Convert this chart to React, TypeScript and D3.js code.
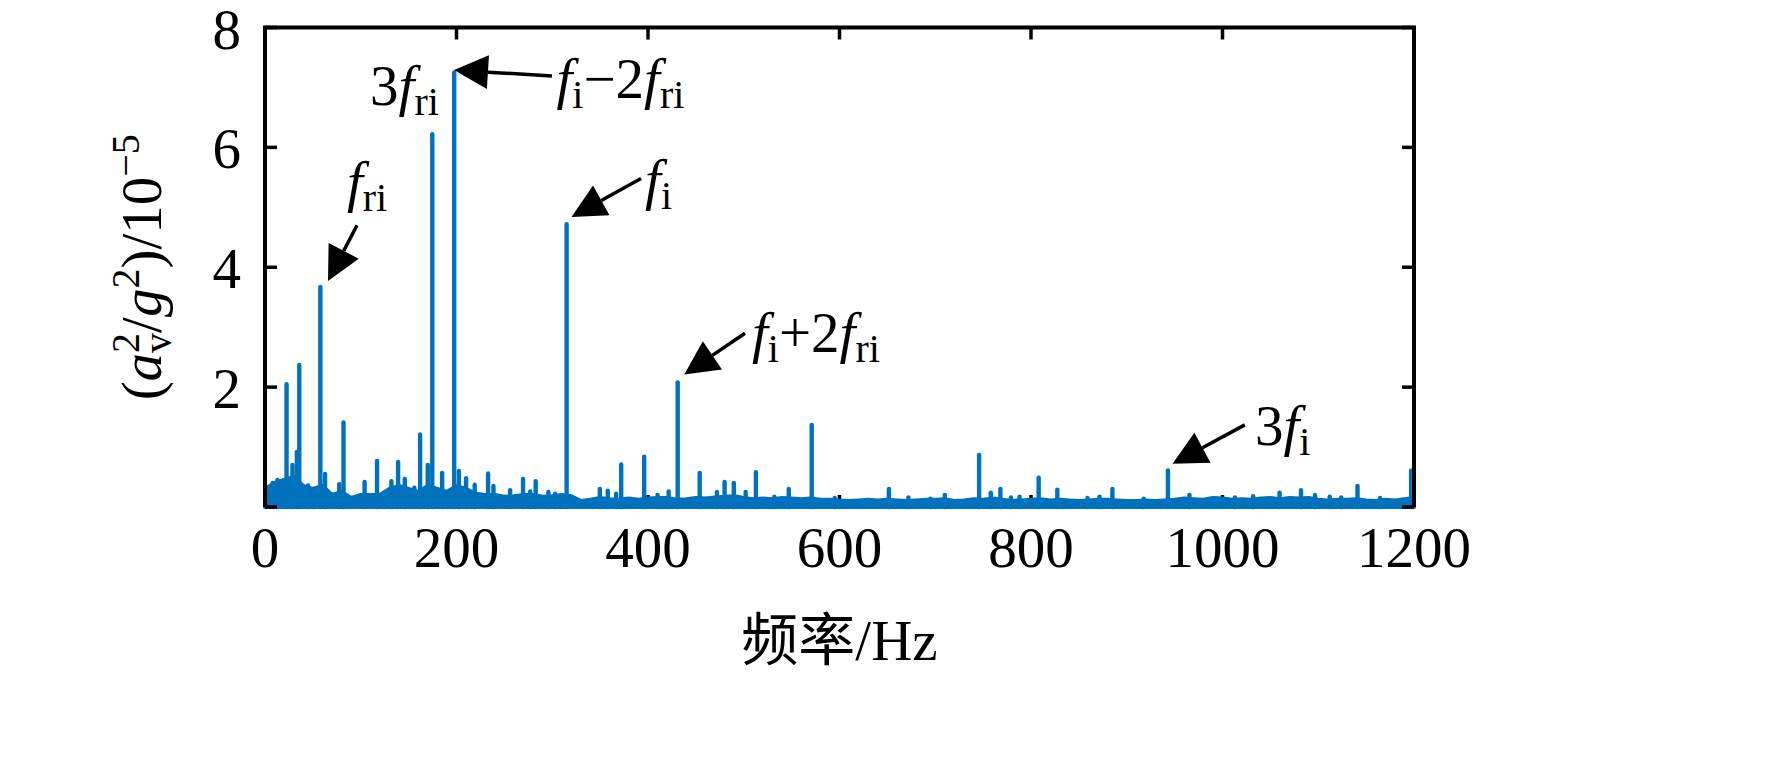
import * as d3 from 'd3';

// Spectrum peaks (Hz, amplitude in 1e-5)
const peakFreqs = [
  1, 8, 13, 22.5, 28.7, 33.3, 35.8, 45, 51, 57.8, 62.7, 77.5, 82, 104, 117, 132, 139, 146,
  156, 162, 170, 174.7, 185, 197.6, 202.5, 210, 219, 233, 238.6, 256, 269.5, 277, 282.7,
  296, 303, 315, 349.7, 358, 366.7, 372, 396, 410, 421.6, 431, 454, 472, 480, 489.6, 502,
  512.7, 532, 547, 571, 595, 651.6, 672, 695, 710, 745.8, 758, 768, 779, 788, 808, 827.5,
  859, 871.5, 885, 917.7, 943, 965.5, 1013, 1032, 1059.6, 1082, 1096.6, 1112, 1124, 1141,
  1164.6, 1197,
];
const peakAmps = [
  0.3, 0.4, 0.45, 2.05, 0.7, 0.92, 2.37, 0.36, 0.3, 3.67, 0.55, 0.38, 1.41, 0.42, 0.77, 0.43,
  0.75, 0.47, 0.32, 1.21, 0.7, 6.22, 0.57, 7.25, 0.6, 0.48, 0.37, 0.56, 0.35, 0.28, 0.47,
  0.26, 0.43, 0.25, 0.22, 4.72, 0.3, 0.27, 0.22, 0.71, 0.84, 0.2, 0.26, 2.08, 0.57, 0.25,
  0.42, 0.4, 0.25, 0.58, 0.17, 0.3, 1.37, 0.15, 0.3, 0.16, 0.14, 0.2, 0.87, 0.24, 0.3, 0.16,
  0.17, 0.49, 0.29, 0.15, 0.17, 0.3, 0.14, 0.61, 0.2, 0.16, 0.18, 0.24, 0.28, 0.2, 0.17,
  0.16, 0.35, 0.15, 0.61,
];

// noise floor, one reading every 10 Hz from 0 to 1200
const floorStep = 10;
const floorVals = [
  0.3, 0.4, 0.45, 0.5, 0.35, 0.3, 0.35, 0.2, 0.25, 0.15, 0.2, 0.2, 0.2, 0.3, 0.35, 0.3,
  0.25, 0.35, 0.3, 0.25, 0.35, 0.3, 0.22, 0.2, 0.2, 0.17, 0.18, 0.2, 0.2, 0.17, 0.18, 0.2,
  0.18, 0.1, 0.12, 0.15, 0.13, 0.12, 0.14, 0.12, 0.14, 0.15, 0.15, 0.12, 0.13, 0.15, 0.14,
  0.16, 0.17, 0.18, 0.15, 0.13, 0.14, 0.13, 0.15, 0.14, 0.13, 0.14, 0.12, 0.12, 0.11, 0.1,
  0.11, 0.12, 0.11, 0.12, 0.11, 0.1, 0.11, 0.12, 0.12, 0.13, 0.1, 0.11, 0.13, 0.12, 0.14,
  0.12, 0.1, 0.11, 0.12, 0.13, 0.11, 0.12, 0.11, 0.1, 0.11, 0.12, 0.12, 0.11, 0.1, 0.1,
  0.11, 0.1, 0.11, 0.12, 0.14, 0.13, 0.12, 0.15, 0.14, 0.12, 0.13, 0.12, 0.14, 0.15, 0.13,
  0.15, 0.14, 0.15, 0.12, 0.11, 0.12, 0.12, 0.13, 0.11, 0.1, 0.12, 0.11, 0.13, 0.15,
];

const xTicks = [0, 200, 400, 600, 800, 1000, 1200];
const yTicks = [0, 2, 4, 6, 8];
const yTickLabels = ['', '2', '4', '6', '8'];

type Seg = { t: string; it?: boolean; pos?: 'sub' | 'sup'; dx?: number };

// annotation labels, anchored in data units (Hz, 1e-5)
const annotations: Array<{
  text: Seg[];
  at: [number, number];
  tip?: [number, number];
  tail?: [number, number];
}> = [
  { text: [{ t: '3' }, { t: 'f', it: true }, { t: 'ri', pos: 'sub' }], at: [109.7, 6.71] },
  {
    text: [{ t: 'f', it: true }, { t: 'i', pos: 'sub' }, { t: '\u22122' }, { t: 'f', it: true }, { t: 'ri', pos: 'sub' }],
    at: [304.4, 6.83], tip: [197.4, 7.29], tail: [299.7, 7.19],
  },
  { text: [{ t: 'f', it: true }, { t: 'ri', pos: 'sub' }], at: [85.6, 5.1], tip: [65.8, 3.77], tail: [96.1, 4.7] },
  { text: [{ t: 'f', it: true }, { t: 'i', pos: 'sub' }], at: [396.9, 5.14], tip: [320.1, 4.84], tail: [392.7, 5.48] },
  {
    text: [{ t: 'f', it: true }, { t: 'i', pos: 'sub' }, { t: '+2' }, { t: 'f', it: true }, { t: 'ri', pos: 'sub' }],
    at: [508.6, 2.59], tip: [437.9, 2.21], tail: [501.3, 2.9],
  },
  { text: [{ t: '3' }, { t: 'f', it: true }, { t: 'i', pos: 'sub' }], at: [1033.9, 1.04], tip: [947.8, 0.72], tail: [1023.3, 1.37] },
];

const yLabel: Seg[] = [
  { t: '(' }, { t: 'a', it: true }, { t: 'v', pos: 'sub' }, { t: '2', pos: 'sup', dx: -20 },
  { t: '/' }, { t: 'g', it: true }, { t: '2', pos: 'sup' }, { t: ')/10' }, { t: '\u22125', pos: 'sup' },
];

const serif = "'Liberation Serif', 'Times New Roman', serif";
const blue = '#0072BD';
const fs = 57;
const small = 40;

function Rich({ x, y, segs, anchor = 'start', transform }: {
  x?: number; y?: number; segs: Seg[]; anchor?: string; transform?: string;
}) {
  let cur = 0;
  return (
    <text x={x} y={y} transform={transform} fontFamily={serif} fontSize={fs} textAnchor={anchor} fill="#000">
      {segs.map((s, i) => {
        const target = s.pos === 'sub' ? 10 : s.pos === 'sup' ? -22 : 0;
        const dy = target - cur;
        cur = target;
        return (
          <tspan key={i} dy={dy || undefined} dx={s.dx} fontStyle={s.it ? 'italic' : undefined} fontSize={s.pos ? small : undefined}>
            {s.t}
          </tspan>
        );
      })}
    </text>
  );
}

export default function App() {
  const width = 1772;
  const height = 766;
  const left = 265, right = 1414, top = 27.5, bottom = 507;

  const x = d3.scaleLinear().domain([0, 1200]).range([left, right]);
  const y = d3.scaleLinear().domain([0, 8]).range([bottom, top]);

  const floorData = floorVals.map((v, i) => [i * floorStep, v] as [number, number]);
  const floorArea = d3.area<[number, number]>()
    .x(d => x(d[0]))
    .y0(y(0))
    .y1(d => y(d[1]));

  const tickLen = 12;

  return (
    <svg width={width} height={height} style={{ position: 'absolute', left: 0, top: 0, background: '#fff' }}>
      {/* bottom axis sits under the spectrum */}
      <line x1={left} x2={right} y1={bottom} y2={bottom} stroke="#000" strokeWidth={4} />
      {xTicks.map(t => (
        <line key={t} x1={x(t)} x2={x(t)} y1={bottom} y2={bottom - tickLen} stroke="#000" strokeWidth={3.5} />
      ))}

      {/* spectrum */}
      <path d={floorArea(floorData) || ''} fill={blue} stroke={blue} strokeWidth={4} strokeLinejoin="round" />
      {peakFreqs.map((f, i) => (
        <line key={i} x1={x(f)} x2={x(f)} y1={y(0)} y2={y(peakAmps[i])}
          stroke={blue} strokeWidth={4.4} strokeLinecap="round" />
      ))}

      {/* frame */}
      <polyline points={`${left},${bottom} ${left},${top} ${right},${top} ${right},${bottom}`}
        fill="none" stroke="#000" strokeWidth={4} strokeLinejoin="miter" />
      {xTicks.map(t => (
        <line key={t} x1={x(t)} x2={x(t)} y1={top} y2={top + tickLen} stroke="#000" strokeWidth={3.5} />
      ))}
      {yTicks.map(t => (
        <g key={t}>
          <line x1={left} x2={left + tickLen} y1={y(t)} y2={y(t)} stroke="#000" strokeWidth={3.5} />
          <line x1={right} x2={right - tickLen} y1={y(t)} y2={y(t)} stroke="#000" strokeWidth={3.5} />
        </g>
      ))}

      {/* tick labels */}
      {yTicks.map((t, i) => (
        <text key={t} x={241} y={y(t) + 21} textAnchor="end" fontFamily={serif} fontSize={fs}>{yTickLabels[i]}</text>
      ))}
      {xTicks.map(t => (
        <text key={t} x={x(t)} y={567} textAnchor="middle" fontFamily={serif} fontSize={fs}>{t}</text>
      ))}

      {/* axis titles */}
      <text x={(left + right) / 2} y={660} textAnchor="middle" fontSize={fs}>
        <tspan fontFamily="'Noto Sans CJK SC', sans-serif">频率</tspan>
        <tspan fontFamily={serif}>/Hz</tspan>
      </text>
      <Rich transform={`translate(161,${(top + bottom) / 2}) rotate(-90)`} segs={yLabel} anchor="middle" />

      {/* annotations */}
      {annotations.map((a, i) => {
        let arrow = null;
        if (a.tip && a.tail) {
          const tx = x(a.tip[0]), ty = y(a.tip[1]);
          const sx = x(a.tail[0]), sy = y(a.tail[1]);
          const len = Math.hypot(sx - tx, sy - ty);
          const ux = (sx - tx) / len, uy = (sy - ty) / len;
          const headL = 34, headW = 17;
          const bx = tx + ux * headL, by = ty + uy * headL;
          const pts = `${tx},${ty} ${bx - uy * headW},${by + ux * headW} ${bx + uy * headW},${by - ux * headW}`;
          arrow = (
            <g>
              <line x1={sx} y1={sy} x2={bx} y2={by} stroke="#000" strokeWidth={3.5} />
              <polygon points={pts} fill="#000" />
            </g>
          );
        }
        return (
          <g key={i}>
            {arrow}
            <Rich x={x(a.at[0])} y={y(a.at[1])} segs={a.text} />
          </g>
        );
      })}
    </svg>
  );
}
